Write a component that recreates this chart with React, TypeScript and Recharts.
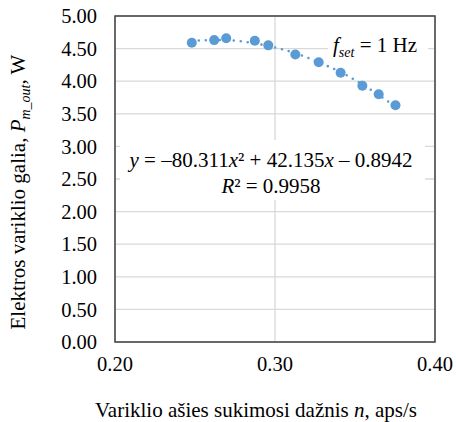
import React from 'react'
import { ComposedChart, CartesianGrid, XAxis, YAxis, Scatter, Line } from 'recharts'

// motor shaft speed n, aps/s
const speed = [0.248, 0.262, 0.2695, 0.2874, 0.2958, 0.3127, 0.3273, 0.341, 0.3546, 0.3648, 0.3753]
// measured motor power P_m_out, W
const power = [4.59, 4.63, 4.66, 4.62, 4.55, 4.41, 4.29, 4.13, 3.93, 3.8, 3.63]
// dotted polynomial trendline
const trend = [4.62, 4.63, 4.63, 4.58, 4.54, 4.43, 4.29, 4.14, 3.95, 3.79, 3.61]

const xTicks = [0.2, 0.3, 0.4]
const yTicks = [0, 0.5, 1, 1.5, 2, 2.5, 3, 3.5, 4, 4.5, 5]

const rows = speed.map((n, i) => ({ n, p: power[i], trend: trend[i] }))

const FONT = '"Liberation Serif", "Times New Roman", serif'
const BLUE = '#5B9BD5'
const txt = { fontFamily: FONT, fontSize: 21, fill: '#000' }
const tickTxt = { fontFamily: FONT, fontSize: 20.5, fill: '#000' }

// plot box (matches margin + axis sizes below)
const PL = 115
const PT = 16
const PW = 320
const PH = 326

const Dot = (props: any) => <circle cx={props.cx} cy={props.cy} r={5} fill={BLUE} />

export default function App() {
  return (
    <div style={{ width: 456, height: 422, fontFamily: FONT }}>
      <style>{'body{margin:0}'}</style>
      <ComposedChart
        width={456}
        height={422}
        data={rows}
        margin={{ top: PT, right: 456 - PL - PW, bottom: 0, left: 0 }}
      >
        <CartesianGrid stroke="#d9d9d9" strokeWidth={1.3} />
        <XAxis
          type="number"
          dataKey="n"
          domain={[0.2, 0.4]}
          ticks={xTicks}
          interval={0}
          tickFormatter={(v) => v.toFixed(2)}
          axisLine={false}
          tickLine={false}
          tickSize={0}
          tickMargin={14}
          height={422 - PT - PH}
          tick={{ ...tickTxt, style: tickTxt }}
        />
        <YAxis
          type="number"
          domain={[0, 5]}
          ticks={yTicks}
          interval={0}
          tickFormatter={(v) => v.toFixed(2)}
          axisLine={false}
          tickLine={false}
          tickSize={0}
          tickMargin={18}
          width={PL}
          tick={{ ...tickTxt, style: tickTxt }}
        />
        <Line
          dataKey="trend"
          type="monotone"
          stroke={BLUE}
          strokeWidth={2.6}
          strokeDasharray="0 7"
          strokeLinecap="round"
          dot={false}
          activeDot={false}
          isAnimationActive={false}
        />
        <Scatter dataKey="p" fill={BLUE} shape={Dot} isAnimationActive={false} />

        {/* label boxes */}
        <rect x={328} y={36} width={100} height={24} fill="#fff" />
        <text x={333} y={52} style={txt}>
          <tspan fontStyle="italic">f</tspan>
          <tspan fontStyle="italic" fontSize={14} dy={5}>set</tspan>
          <tspan dy={-5}> = 1 Hz</tspan>
        </text>

        <rect x={120} y={140} width={305} height={60} fill="#fff" />
        <text x={271} y={167} style={txt} textAnchor="middle">
          <tspan fontStyle="italic">y</tspan> = –80.311<tspan fontStyle="italic">x</tspan>² + 42.135
          <tspan fontStyle="italic">x</tspan> – 0.8942
        </text>
        <text x={271} y={193} style={txt} textAnchor="middle">
          <tspan fontStyle="italic">R</tspan>² = 0.9958
        </text>

        <rect x={PL} y={PT} width={PW} height={PH} fill="none" stroke="#404040" strokeWidth={1.5} />

        {/* axis titles */}
        <text x={25} y={192} style={txt} textAnchor="middle" transform="rotate(-90, 25, 192)">
          Elektros variklio galia, <tspan fontStyle="italic">P</tspan>
          <tspan fontStyle="italic" fontSize={14} dy={5}>m_out</tspan>
          <tspan dy={-5}>, W</tspan>
        </text>
        <text x={256} y={417} style={txt} textAnchor="middle">
          Variklio ašies sukimosi dažnis <tspan fontStyle="italic">n</tspan>, aps/s
        </text>
      </ComposedChart>
    </div>
  )
}
